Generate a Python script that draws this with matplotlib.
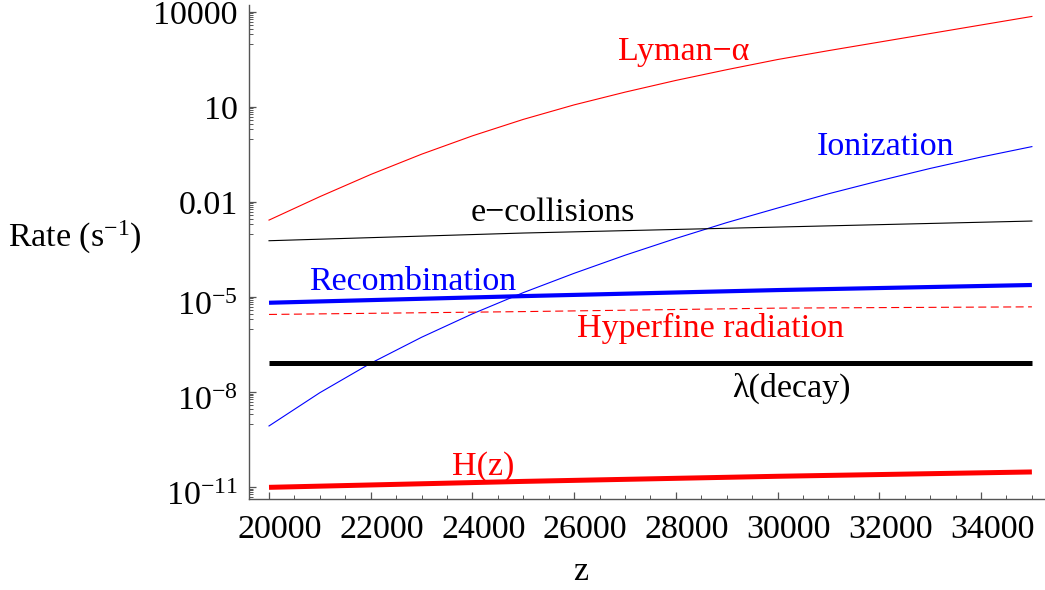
"""
Rates vs redshift z (log scale), Mathematica-style look.
"""
import numpy as np
import matplotlib
matplotlib.use('Agg')
import matplotlib.pyplot as plt
from matplotlib.ticker import FixedLocator, FixedFormatter, NullFormatter
from matplotlib.transforms import ScaledTranslation

plt.rcParams['font.family'] = ['Liberation Serif', 'DejaVu Serif']
plt.rcParams['mathtext.fontset'] = 'custom'
plt.rcParams['mathtext.rm'] = 'Liberation Serif'
plt.rcParams['mathtext.it'] = 'Liberation Serif:italic'

# redshift samples for the curved rates
z_fine = [20000, 21000, 22000, 23000, 24000, 25000, 26000, 27000,
          28000, 29000, 30000, 31000, 32000, 33000, 34000, 35000]
lyman_alpha = [2.69e-3, 1.48e-2, 7.41e-2, 0.324, 1.23, 4.07, 11.7, 29.5,
               69.2, 151, 316, 603, 1122, 2089, 3890, 7244]
ionization = [8.5e-10, 9.55e-9, 8.13e-8, 5.37e-7, 2.95e-6, 1.38e-5, 5.62e-5,
              2.09e-4, 7.08e-4, 2.24e-3, 6.46e-3, 1.82e-2, 4.68e-2, 0.115,
              0.263, 0.562]

# redshift samples for the nearly straight rates
z_coarse = [20000, 25000, 30000, 35000]
e_collisions = [6.0e-4, 1.05e-3, 1.62e-3, 2.51e-3]
recombination = [6.6e-6, 1.07e-5, 1.66e-5, 2.40e-5]
hyperfine = [2.82e-6, 3.47e-6, 4.47e-6, 4.9e-6]
decay = [8.2e-8, 8.2e-8, 8.2e-8, 8.2e-8]
hubble = [9.8e-12, 1.51e-11, 2.19e-11, 3.0e-11]

x_ticks = [20000, 22000, 24000, 26000, 28000, 30000, 32000, 34000]
y_ticks = [1e4, 10, 1e-2, 1e-5, 1e-8, 1e-11]
y_tick_labels = ['10000', '10', '0.01', r'$10^{-5}$', r'$10^{-8}$', r'$10^{-11}$']

fig = plt.figure(figsize=(10.45, 5.9), dpi=100)
ax = fig.add_axes([0.2383, 0.1537, 0.7617, 0.8378])

thin = 0.8
ax.plot(z_fine, lyman_alpha, color='red', lw=thin)
ax.plot(z_fine, ionization, color='blue', lw=thin)
ax.plot(z_coarse, e_collisions, color='black', lw=thin)
ax.plot(z_coarse, hyperfine, color='red', lw=thin, dashes=(7.2, 4))
ax.plot(z_coarse, decay, color='black', lw=3.6, solid_capstyle='butt')
ax.plot(z_coarse, recombination, color='blue', lw=3.0, solid_capstyle='butt')
ax.plot(z_coarse, hubble, color='red', lw=3.6, solid_capstyle='butt')

ax.set_yscale('log')
ax.set_xlim(19607, 35258)
ax.set_ylim(10**-11.387, 10**4.221)

# curve labels
fs = 24.5
labels = [
    ('Lyman\u2212\u03b1', 28160, 10**2.74, 'red'),
    ('Ionization', 32131, 10**-0.26, 'blue'),
    ('e\u2212collisions', 25584, 10**-2.35, 'black'),
    ('Recombination', 22831, 10**-4.53, 'blue'),
    ('Hyperfine radiation', 28690, 10**-5.98, 'red'),
    ('\u03bb(decay)', 30263, 10**-7.87, 'black'),
    ('H(z)', 24208, 10**-10.34, 'red'),
]
for text, zx, ry, col in labels:
    ax.text(zx, ry, text, color=col, fontsize=fs, ha='center', va='center')

# axes styling
for side in ['top', 'right']:
    ax.spines[side].set_visible(False)
for side in ['left', 'bottom']:
    ax.spines[side].set_color('#555555')
    ax.spines[side].set_linewidth(1.0)

ax.xaxis.set_major_locator(FixedLocator(x_ticks))
ax.xaxis.set_minor_locator(FixedLocator(np.arange(20000, 35001, 500)))
ax.set_xticklabels([str(t) for t in x_ticks])

minor_y = []
for m in y_ticks:
    for k in range(1, 10):
        minor_y.append(k * m / 10)
ax.yaxis.set_major_locator(FixedLocator(y_ticks))
ax.yaxis.set_major_formatter(FixedFormatter(y_tick_labels))
ax.yaxis.set_minor_locator(FixedLocator(minor_y))
ax.yaxis.set_minor_formatter(NullFormatter())

ax.tick_params(axis='both', which='major', direction='in', length=5,
               width=0.9, color='#555555', labelsize=fs)
ax.tick_params(axis='both', which='minor', direction='in', length=3,
               width=0.7, color='#555555')
ax.tick_params(axis='y', which='major', pad=8)
ax.tick_params(axis='x', which='major', pad=11)

# Mathematica puts the x labels a bit to the right of the ticks
shift = ScaledTranslation(11 / 100, 0, fig.dpi_scale_trans)
for lab in ax.get_xticklabels():
    lab.set_transform(lab.get_transform() + shift)

# and the power-of-ten labels sit a little below their ticks
down = ScaledTranslation(0, -6 / 100, fig.dpi_scale_trans)
for lab in ax.get_yticklabels()[3:]:
    lab.set_transform(lab.get_transform() + down)

ax.set_xlabel('z', fontsize=fs)
ax.xaxis.set_label_coords(0.417, -0.115)
ax.set_ylabel('Rate (s$^{-1}$)', fontsize=fs, rotation=0, ha='left', va='center')
ax.yaxis.set_label_coords(-0.3025, 0.53)

fig.savefig('out.png', dpi=100)
